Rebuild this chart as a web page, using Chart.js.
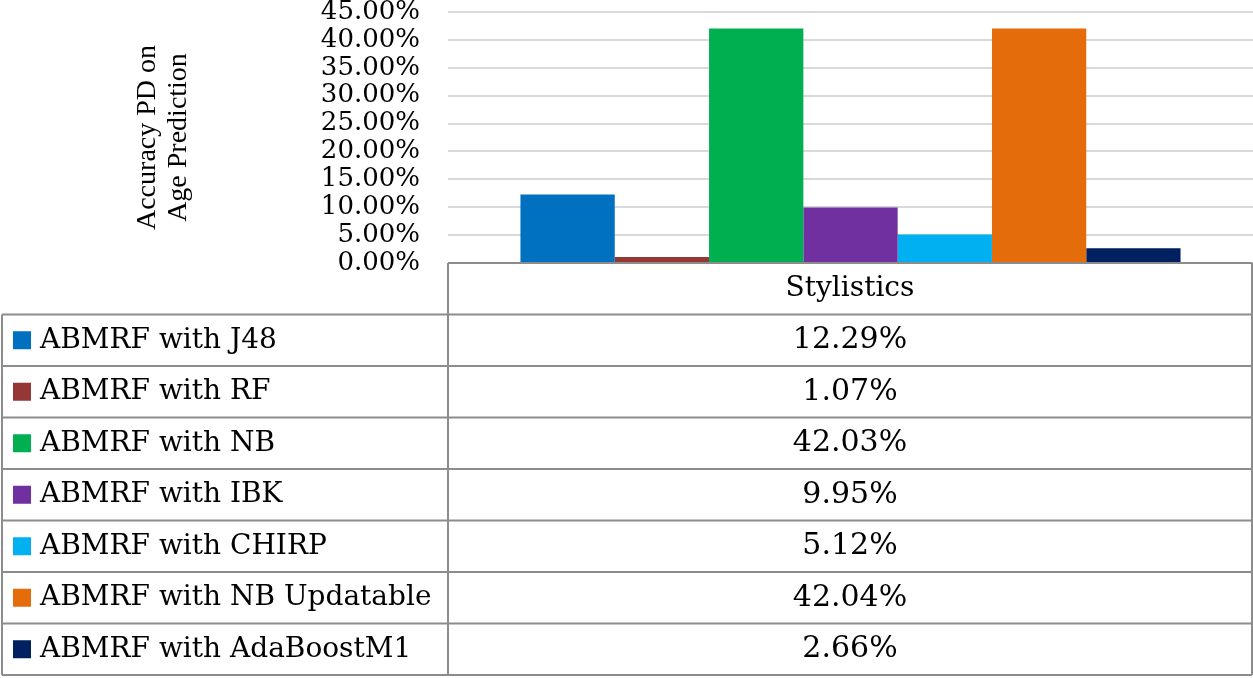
<!DOCTYPE html>
<html>
<head>
<meta charset="utf-8">
<script src="https://cdn.jsdelivr.net/npm/chart.js@4"></script>
<style>
  html, body { margin: 0; padding: 0; background: #fff; }
  #wrap { width: 1253px; height: 678px; }
</style>
</head>
<body>
<div id="wrap"><canvas id="accChart" width="1253" height="678"></canvas></div>
<script>
// Data
const categories = ['Stylistics'];
const seriesNames = [
  'ABMRF with J48',
  'ABMRF with RF',
  'ABMRF with NB',
  'ABMRF with IBK',
  'ABMRF with CHIRP',
  'ABMRF with NB Updatable',
  'ABMRF with AdaBoostM1'
];
const seriesValues = [12.29, 1.07, 42.03, 9.95, 5.12, 42.04, 2.66];
const seriesColors = ['#0070C0', '#953735', '#00B050', '#7030A0', '#00B0F0', '#E46C0A', '#002060'];
const yTickMin = 0;
const yTickMax = 45;
const yTickStep = 5;
const yTitle = ['Accuracy PD on', 'Age Prediction'];

const FONT = "'DejaVu Serif', 'Liberation Serif', serif";
const TITLE_FONT = "'Liberation Serif', serif";
const BORDER = '#8c8c8c';
const PAD_LEFT = 132;

// Data table drawn under the plot, columns taken from the x scale
const dataTablePlugin = {
  id: 'dataTable',
  afterDraw(chart) {
    const ctx = chart.ctx;
    const xs = chart.scales.x;
    const area = chart.chartArea;
    const left = 2;
    const colL = xs.left;
    const colR = xs.right - 1;
    const top = area.bottom;
    const bottom = chart.height - 3;
    const rowH = (bottom - top) / (seriesNames.length + 1);

    ctx.save();
    ctx.strokeStyle = BORDER;
    ctx.lineWidth = 2;
    ctx.beginPath();
    ctx.moveTo(colL, top); ctx.lineTo(colR, top);
    ctx.moveTo(colL, top); ctx.lineTo(colL, bottom);
    ctx.moveTo(colR, top); ctx.lineTo(colR, bottom);
    for (let i = 1; i <= seriesNames.length + 1; i++) {
      const y = top + rowH * i;
      ctx.moveTo(left, y); ctx.lineTo(colR, y);
    }
    ctx.moveTo(left, top + rowH); ctx.lineTo(left, bottom);
    ctx.stroke();

    ctx.fillStyle = '#000';
    ctx.textBaseline = 'middle';
    ctx.textAlign = 'center';
    const cx = (colL + colR) / 2;
    ctx.font = '28px ' + FONT;
    ctx.fillText(categories[0], cx, top + rowH / 2);

    seriesNames.forEach((name, i) => {
      const yMid = top + rowH * (i + 1.5);
      ctx.fillStyle = seriesColors[i];
      ctx.fillRect(13, yMid - 9, 18, 18);
      ctx.fillStyle = '#000';
      ctx.textAlign = 'left';
      ctx.font = '28px ' + FONT;
      ctx.fillText(name, 40, yMid);
      ctx.textAlign = 'center';
      ctx.font = '30px ' + FONT;
      ctx.fillText(seriesValues[i].toFixed(2) + '%', cx, yMid);
    });
    ctx.restore();
  }
};

const ctx = document.getElementById('accChart');
const accChart = new Chart(ctx, {
  type: 'bar',
  data: {
    labels: categories,
    datasets: seriesNames.map((name, i) => ({
      label: name,
      data: [seriesValues[i]],
      backgroundColor: seriesColors[i],
      borderWidth: 0,
      categoryPercentage: 0.82,
      barPercentage: 1
    }))
  },
  options: {
    responsive: false,
    animation: false,
    layout: { padding: { left: PAD_LEFT, top: 12, right: 0, bottom: 415 } },
    plugins: {
      legend: { display: false },
      tooltip: { enabled: false }
    },
    scales: {
      x: { display: false },
      y: {
        min: yTickMin,
        max: yTickMax,
        ticks: {
          stepSize: yTickStep,
          autoSkip: false,
          color: '#000',
          padding: 28,
          font: { family: FONT, size: 26, lineHeight: 1 },
          callback: v => v.toFixed(2) + '%'
        },
        grid: { color: '#d9d9d9', lineWidth: 2, drawTicks: false },
        border: { display: false },
        title: {
          display: true,
          text: yTitle,
          color: '#000',
          padding: 0,
          font: { family: TITLE_FONT, size: 28, lineHeight: 1.1 }
        },
        afterFit: s => {
          s.width = 448 - PAD_LEFT;
          // tick padding is meant for the x direction only here
          s.paddingTop = 0;
          s.paddingBottom = 0;
        }
      }
    }
  },
  plugins: [dataTablePlugin]
});
</script>
</body>
</html>
